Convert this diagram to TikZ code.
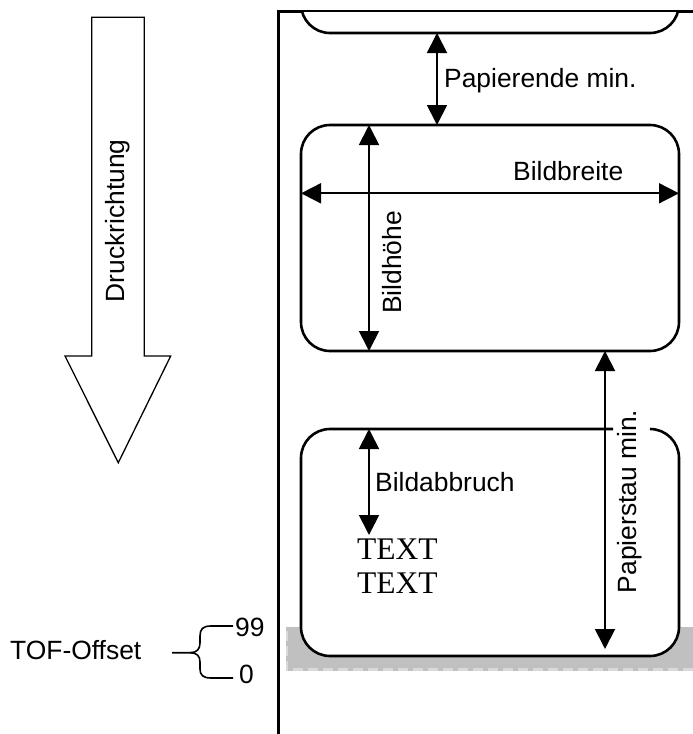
\documentclass[tikz,border=0pt]{standalone}
\usepackage{fontspec}
\setmainfont{Liberation Sans}
\newfontfamily\labelserif{Liberation Serif}
\usetikzlibrary{arrows.meta}
\begin{document}
\begin{tikzpicture}[x=1pt,y=-1pt,
  dimline/.style={line width=1.8pt,
    {Triangle[length=20pt,width=20pt]}-{Triangle[length=20pt,width=20pt]}},
  dimtip/.style={line width=1.8pt,-{Triangle[length=20pt,width=20pt]}},
  labelbox/.style={rounded corners=29pt, line width=2.6pt, fill=white},
  paperedge/.style={line width=3pt},
  lbl/.style={font=\fontsize{26.4}{31}\selectfont, inner sep=0pt},
  sample/.style={font=\labelserif\fontsize{31.5}{36}\selectfont, inner sep=0pt},
  bigarrow/.style={line width=1.3pt},
  braceline/.style={line width=1.6pt}
]
\useasboundingbox (0,0) rectangle (693,734);

% grey strip (TOF offset range)
\fill[fill={rgb,255:red,192;green,192;blue,192}] (286,627) rectangle (693,671);
\draw[gray!30, line width=2.5pt, dash pattern=on 10pt off 5pt] (693,669.5) -- (287,669.5) -- (287,628);

% paper edges
\coordinate (edge-top-left) at (278,11);
\coordinate (edge-top-right) at (693,11);
\coordinate (edge-bottom) at (278,734);
\draw[paperedge, line join=miter] (edge-bottom) -- (edge-top-left) -- (edge-top-right);

% previous label, cut by the paper edge
\begin{scope}
  \clip (280,12.5) rectangle (693,734);
  \draw[labelbox] (301,-40) rectangle (679,33);
\end{scope}

% current label
\draw[labelbox] (301,125) rectangle (679,351);

% next label, top border open for the dimension text
\draw[labelbox] (613,429) -- (301,429) -- (301,656) -- (679,656) -- (679,429) -- (650,429);

% dimension points
\coordinate (prev-bottom) at (437,33);
\coordinate (cur-top) at (437,125);
\coordinate (h-top) at (369,125);
\coordinate (h-bottom) at (369,351);
\coordinate (w-left) at (301,193.3);
\coordinate (w-right) at (679,193.3);
\coordinate (jam-top) at (605,351);
\coordinate (jam-bottom) at (605,649);
\coordinate (cut-top) at (369,429);
\coordinate (cut-bottom) at (369,535);

\draw[dimline] (prev-bottom) -- (cur-top);
\draw[dimline] (h-top) -- (h-bottom);
\draw[dimline] (w-left) -- (w-right);
\draw[dimline] (jam-top) -- (jam-bottom);
\draw[dimline] (cut-top) -- (cut-bottom);

% dimension labels
\node[lbl, anchor=base west] (papierende) at (444,87.5) {Papierende min.};
\node[lbl, anchor=base west] (bildbreite) at (513,180) {Bildbreite};
\node[lbl, anchor=base, rotate=90] (bildhoehe) at (401.5,262.5) {Bildhöhe};
\node[lbl, anchor=base, rotate=90] (papierstau) at (636,501.5) {Papierstau min.};
\node[lbl, anchor=base west] (bildabbruch) at (375,491.7) {Bildabbruch};

% sample print
\node[sample, anchor=base west] (text1) at (357,559) {TEXT};
\node[sample, anchor=base west] (text2) at (357,593) {TEXT};

% print direction arrow
\draw[bigarrow, line join=miter] (91.7,17.3) -- (144.3,17.3) -- (144.3,356) -- (170.7,356)
  -- (118.3,462.7) -- (65,356) -- (91.7,356) -- cycle;
\node[lbl, anchor=base, rotate=90] (druck) at (124.5,221) {Druckrichtung};

% TOF offset brace
\node[lbl, anchor=base west] (tof) at (10,659.3) {TOF-Offset};
\node[lbl, anchor=base west] (n99) at (235,636) {99};
\node[lbl, anchor=base west] (n0) at (239,683.3) {0};
\coordinate (brace-tip) at (172,652.7);
\coordinate (brace-mid) at (190,652.7);
\coordinate (brace-up) at (233,626);
\coordinate (brace-down) at (233,678);
\draw[braceline] (brace-tip) -- (brace-mid)
  .. controls (197,652.7) and (200,649) .. (200,643) -- (200,636)
  .. controls (200,629) and (203,626) .. (211,626) -- (brace-up);
\draw[braceline] (brace-mid)
  .. controls (197,652.7) and (200,656) .. (200,662) -- (200,669)
  .. controls (200,675) and (203,678) .. (211,678) -- (brace-down);
\end{tikzpicture}
\end{document}
